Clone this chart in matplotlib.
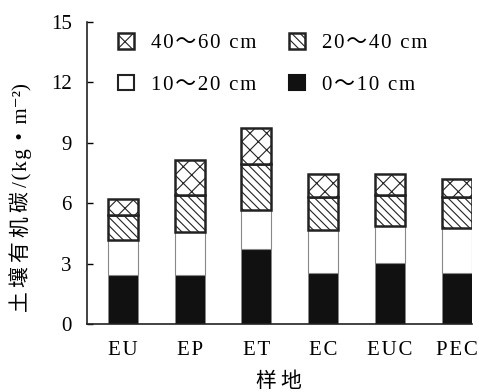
import matplotlib
matplotlib.use("Agg")
import matplotlib.pyplot as plt
from matplotlib.patches import Patch
import numpy as np

plt.rcParams['font.family'] = ['Liberation Serif', 'Noto Sans CJK SC', 'DejaVu Sans']
plt.rcParams['hatch.linewidth'] = 0.8

sites = ['EU', 'EP', 'ET', 'EC', 'EUC', 'PEC']
layer_labels = ['0～10 cm', '10～20 cm', '20～40 cm', '40～60 cm']
d0_10 = [2.44, 2.44, 3.73, 2.54, 3.03, 2.54]
d10_20 = [1.74, 2.15, 1.94, 2.14, 1.85, 2.25]
d20_40 = [1.21, 1.83, 2.27, 1.65, 1.54, 1.51]
d40_60 = [0.83, 1.70, 1.78, 1.10, 1.01, 0.91]
yticks = [0, 3, 6, 9, 12, 15]
xlabel_text = '样地'
ylabel_cn = '土壤有机碳'
ylabel_unit = '/(kg • m'
ylabel_sup = '⁻²)'


def spaced(s, gap='\u200a'):
    return gap.join(list(s))


fig = plt.figure(figsize=(4.79, 3.92), dpi=100)
ax = fig.add_axes([0.1816, 0.1735, 0.985 - 0.1816, 0.944 - 0.1735])
x = np.arange(len(sites))
w = 0.45

b0 = np.zeros(len(sites))
ax.bar(x, d0_10, w, bottom=b0, color='#111111', edgecolor='#888888', linewidth=0.6)
b1 = b0 + np.array(d0_10)
ax.bar(x, d10_20, w, bottom=b1, color='white', edgecolor='#888888', linewidth=0.8)
b2 = b1 + np.array(d10_20)
ax.bar(x, d20_40, w, bottom=b2, color='white', edgecolor='#222222', linewidth=1.8, hatch='\\\\\\\\')
b3 = b2 + np.array(d20_40)
ax.bar(x, d40_60, w, bottom=b3, color='white', edgecolor='#222222', linewidth=1.8, hatch='xx')

ax.set_xlim(-0.537, 5.224)
ax.set_ylim(0, 15)
ax.set_yticks(yticks)
ax.set_xticks(x)
ax.set_xticklabels([spaced(s) for s in sites])
ax.tick_params(axis='y', direction='in', length=4, width=1, labelsize=15, pad=11)
ax.tick_params(axis='x', length=0, labelsize=15, pad=12)
for s in ['top', 'right']:
    ax.spines[s].set_visible(False)
for s in ['left', 'bottom']:
    ax.spines[s].set_linewidth(1.2)
    ax.spines[s].set_color('#222222')

ax.set_xlabel(spaced(xlabel_text, '\u2009'), fontsize=15, labelpad=9)
ax.set_ylabel(spaced(ylabel_cn, '\u2009') + '\u2009' + spaced(ylabel_unit) + ylabel_sup, fontsize=15)
ax.yaxis.set_label_coords(-0.143, 0.42)

handles = [
    Patch(facecolor='white', edgecolor='#222222', linewidth=1.8, hatch='xx', label=spaced(layer_labels[3])),
    Patch(facecolor='white', edgecolor='#222222', linewidth=1.5, label=spaced(layer_labels[1])),
    Patch(facecolor='white', edgecolor='#222222', linewidth=1.8, hatch='\\\\\\\\', label=spaced(layer_labels[2])),
    Patch(facecolor='#111111', edgecolor='#111111', linewidth=1.5, label=spaced(layer_labels[0])),
]
ax.legend(handles=handles, ncol=2, frameon=False, fontsize=15, loc='upper left',
          bbox_to_anchor=(0.06, 0.99), borderaxespad=0, handlelength=0.75, handleheight=0.75,
          columnspacing=1.6, handletextpad=0.8, labelspacing=1.05)

fig.savefig('out.png', dpi=100)
